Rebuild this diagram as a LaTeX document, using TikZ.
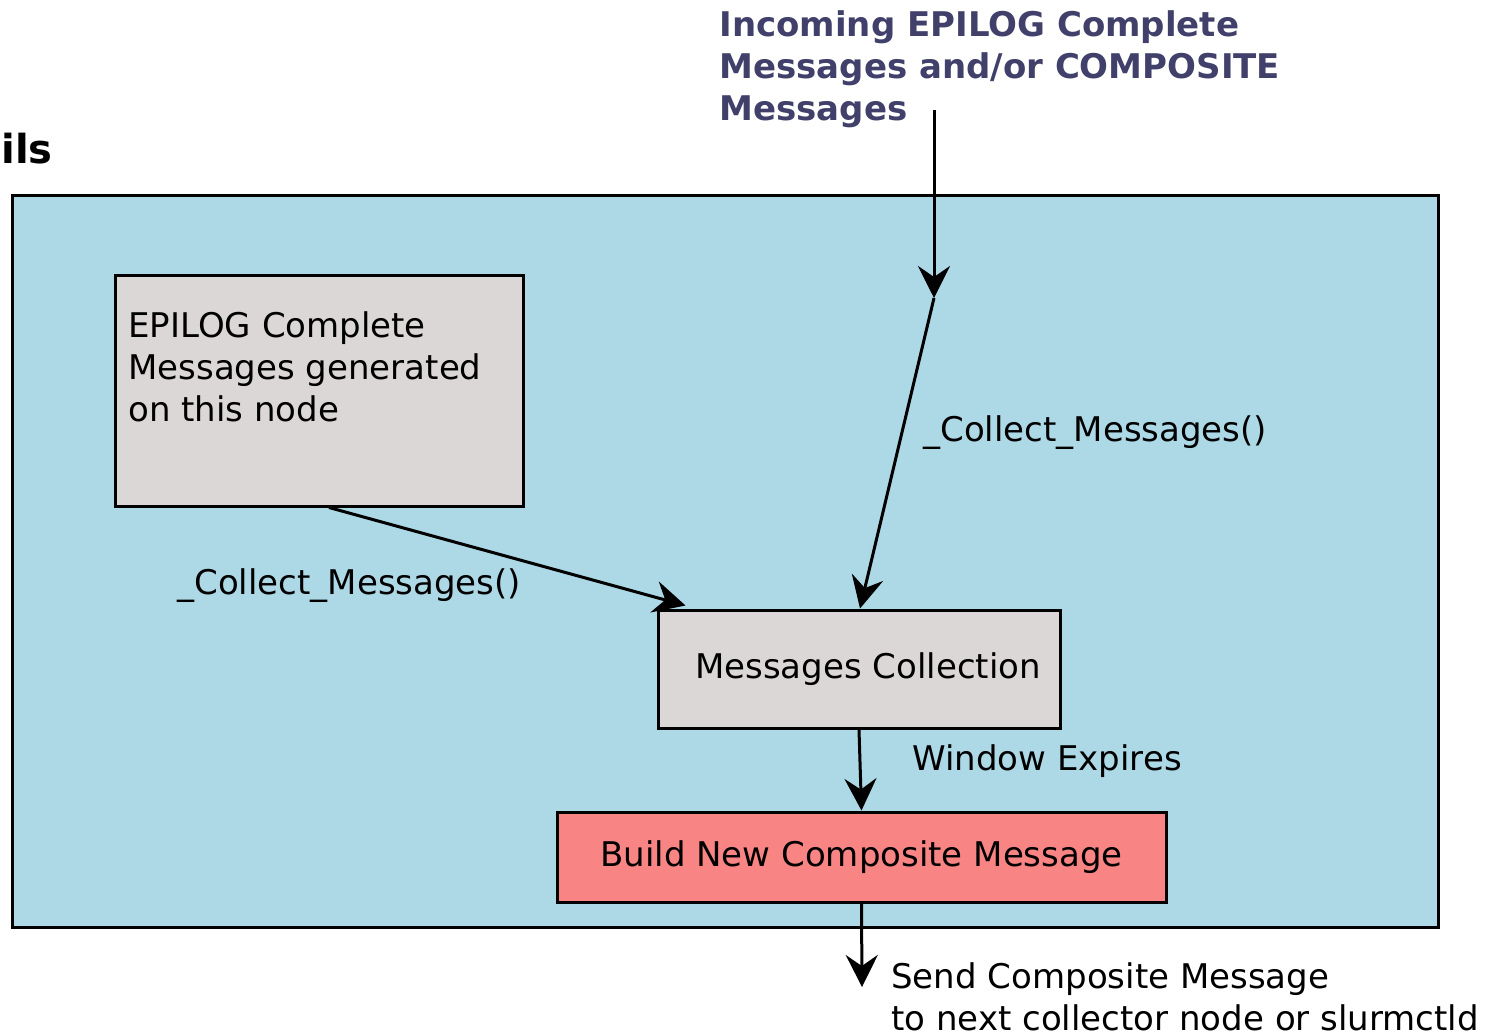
\documentclass[tikz,border=0pt]{standalone}
\usepackage{fontspec}
\setmainfont{DejaVu Sans}
\usetikzlibrary{arrows.meta}
\definecolor{panelblue}{RGB}{173,216,230}
\definecolor{boxgray}{RGB}{220,215,215}
\definecolor{boxred}{RGB}{248,132,132}
\definecolor{titleink}{RGB}{64,64,106}
\begin{document}
\begin{tikzpicture}[x=0.5pt,y=-0.5pt,
  every node/.style={font=\fontsize{17}{21}\selectfont},
  box/.style={draw=black, line width=1.5pt, inner sep=0pt},
  conn/.style={line width=1.5pt, -{Stealth[length=16pt,width=16pt,inset=5.5pt]}},
  txt/.style={inner sep=0pt, anchor=base west},
  block/.style={inner sep=0pt, anchor=north west, align=left},
]
\useasboundingbox (0,0) rectangle (1495,1035);

% heading fragment at the left edge
\node[txt, font=\fontsize{20}{24}\selectfont\bfseries] (head) at (1,163) {ils};

% enclosing panel
\node[box, fill=panelblue, minimum width=713pt, minimum height=366pt] (panel) at (725,561) {};

% incoming messages caption
\node[block, font=\fontsize{17}{21}\selectfont\bfseries, text=titleink] (incoming) at (719,10)
  {Incoming EPILOG Complete\\Messages and/or COMPOSITE\\Messages};

% local messages box
\node[box, fill=boxgray, minimum width=204pt, minimum height=115.5pt] (local) at (319,390.5) {};
\node[block] (localtext) at (128,311) {EPILOG Complete\\Messages generated\\on this node};

% collection box
\node[box, fill=boxgray, minimum width=201pt, minimum height=59pt] (coll) at (859,669) {};
\node[inner sep=0pt] (colltext) at ([xshift=4.5pt]coll.center) {Messages Collection};

% build box
\node[box, fill=boxred, minimum width=304.5pt, minimum height=45pt] (build) at (861.5,857) {Build New Composite Message};

% connector end points
\coordinate (src) at (934,110);
\coordinate (bend) at (934,298);
\coordinate (out) at (862,987);

% connectors
\draw[conn] ([xshift=5pt]local.south) -- ([xshift=14.5pt,yshift=1.5pt]coll.north west);
\draw[conn] (src) -- (bend);
\draw[conn] (bend) -- ([xshift=0.5pt]coll.north);
\draw[conn] (coll.south) -- (build.north);
\draw[conn] (build.south) -- (out);

% connector labels
\node[txt] (lblright) at (923,441) {\_Collect\_Messages()};
\node[txt] (lblleft) at (177,594) {\_Collect\_Messages()};
\node[txt] (lblwin) at (912,770) {Window Expires};
\node[block] (lblsend) at (891,962) {Send Composite Message\\to next collector node or slurmctld};
\end{tikzpicture}
\end{document}
